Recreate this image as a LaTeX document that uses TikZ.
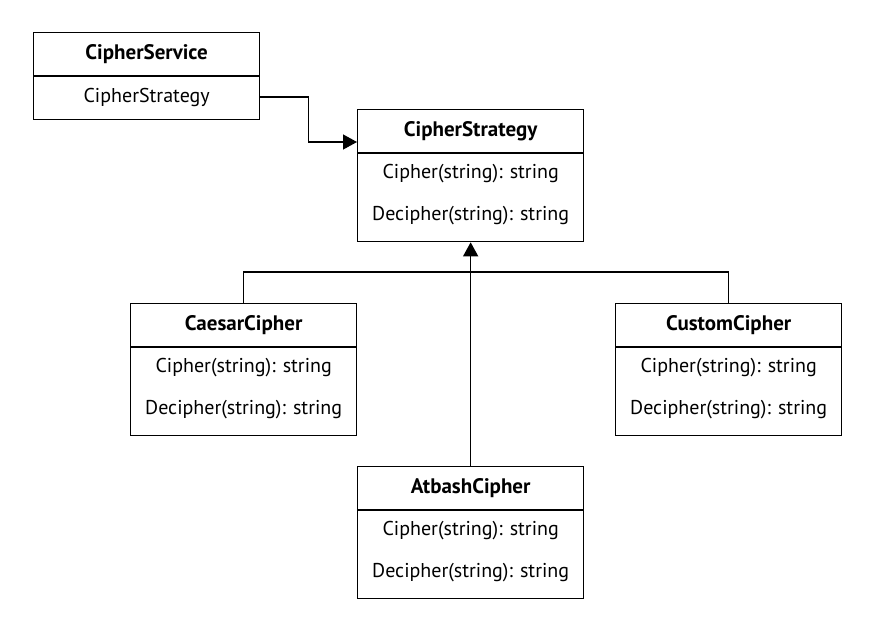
\documentclass[tikz,border=0pt]{standalone}
\usepackage{fontspec}
\setmainfont{PT Sans}
\usetikzlibrary{arrows.meta,positioning}

\begin{document}
\begin{tikzpicture}[x=1pt, y=-1pt, line width=1.3pt,
  classbox/.style={draw, minimum width=226pt, minimum height=132pt, anchor=north west, inner sep=0pt},
  title/.style={font=\fontsize{21}{24}\selectfont\bfseries, inner sep=0pt},
  member/.style={font=\fontsize{20}{24}\selectfont, inner sep=0pt},
  inherit/.style={-{Triangle[length=14pt,width=15pt]}}]
  \useasboundingbox (0,0) rectangle (873,630);

  % Service holding the strategy
  \node[classbox, minimum height=87pt] (service) at (33,32) {};
  \draw ([yshift=-44pt]service.north west) -- ([yshift=-44pt]service.north east);
  \node[title] (service-title) at ([yshift=-22pt]service.north) {CipherService};
  \node[member] (service-attr) at ([yshift=-65pt]service.north) {CipherStrategy};

  % Strategy and its implementations
  \foreach \n/\x/\y/\t in {strategy/357/109/CipherStrategy, caesar/130/303/CaesarCipher,
                           custom/615/303/CustomCipher, atbash/357/466/AtbashCipher} {
    \node[classbox] (\n) at (\x,\y) {};
    \draw ([yshift=-44pt]\n.north west) -- ([yshift=-44pt]\n.north east);
    \node[title] (\n-title) at ([yshift=-22pt]\n.north) {\t};
    \node[member] (\n-cipher) at ([yshift=-65pt]\n.north) {Cipher(string): string};
    \node[member] (\n-decipher) at ([yshift=-107pt]\n.north) {Decipher(string): string};
  }

  % Association
  \draw[inherit] (service-attr -| service.east) -- ++(48,0) |- ([yshift=-33pt]strategy.north west);

  % Inheritance
  \draw[inherit] (atbash.north) -- (strategy.south);
  \draw (caesar.north) -- ++(0,-31) -| (custom.north);
\end{tikzpicture}
\end{document}
